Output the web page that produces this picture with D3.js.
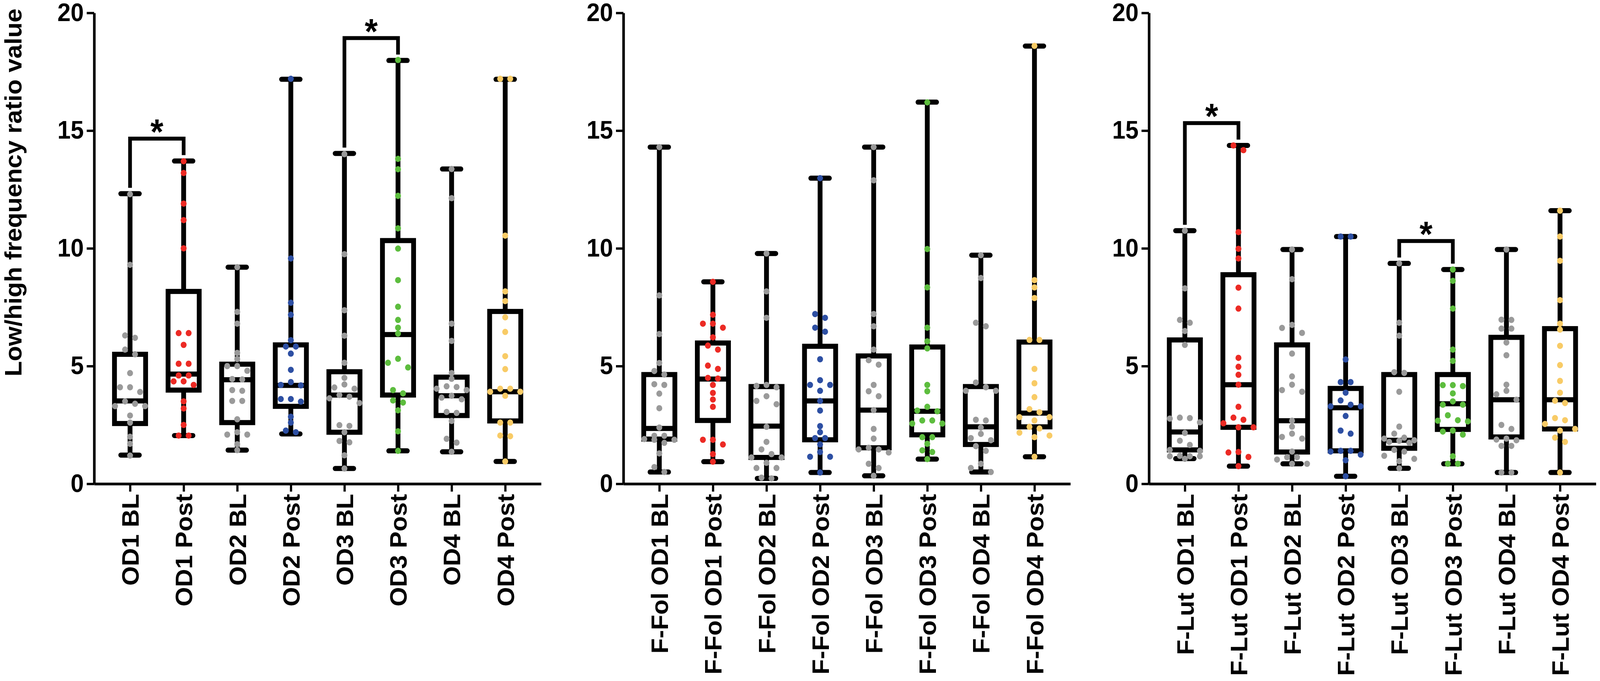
<!DOCTYPE html>
<html>
<head>
<meta charset="utf-8">
<script src="https://cdn.jsdelivr.net/npm/d3@7"></script>
<style>
  html, body { margin: 0; padding: 0; background: #fff; overflow: hidden; }
  #chart svg { display: block; width: 100vw; height: 100vh; }
  text { font-family: "Liberation Sans", Arial, sans-serif; font-weight: bold; }
</style>
</head>
<body>
<div id="chart"></div>
<script>
// ---- data ----
var labels1 = ["OD1 BL", "OD1 Post", "OD2 BL", "OD2 Post", "OD3 BL", "OD3 Post", "OD4 BL", "OD4 Post"];
var labels2 = ["F-Fol OD1 BL", "F-Fol OD1 Post", "F-Fol OD2 BL", "F-Fol OD2 Post", "F-Fol OD3 BL", "F-Fol OD3 Post", "F-Fol OD4 BL", "F-Fol OD4 Post"];
var labels3 = ["F-Lut OD1 BL", "F-Lut OD1 Post", "F-Lut OD2 BL", "F-Lut OD2 Post", "F-Lut OD3 BL", "F-Lut OD3 Post", "F-Lut OD4 BL", "F-Lut OD4 Post"];

var yTicks = [0, 5, 10, 15, 20];
var groupColors = ["#9a9a9a", "#ec2a24", "#9a9a9a", "#2d4fa3", "#9a9a9a", "#5dbd3e", "#9a9a9a", "#f8cb66"];

// box statistics (min, q1, median, q3, max)
var min1 = [1.22, 2.05, 1.43, 2.12, 0.65, 1.40, 1.36, 0.95];
var q1_1 = [2.56, 3.98, 2.60, 3.29, 2.19, 3.77, 2.90, 2.67];
var med1 = [3.52, 4.66, 4.42, 4.18, 3.77, 6.34, 3.74, 3.91];
var q3_1 = [5.50, 8.17, 5.08, 5.90, 4.76, 10.33, 4.53, 7.32];
var max1 = [12.32, 13.71, 9.20, 17.18, 14.03, 17.98, 13.37, 17.18];

var min2 = [0.50, 0.94, 0.23, 0.48, 0.34, 1.05, 0.50, 1.15];
var q1_2 = [1.90, 2.69, 1.12, 1.87, 1.53, 2.08, 1.67, 2.42];
var med2 = [2.35, 4.45, 2.45, 3.52, 3.13, 3.08, 2.42, 3.00];
var q3_2 = [4.64, 5.98, 4.13, 5.84, 5.43, 5.81, 4.13, 6.02];
var max2 = [14.30, 8.58, 9.78, 12.98, 14.30, 16.21, 9.71, 18.59];

var min3 = [1.07, 0.75, 0.85, 0.32, 0.66, 0.85, 0.48, 0.48];
var q1_3 = [1.44, 2.40, 1.35, 1.40, 1.51, 2.31, 1.99, 2.33];
var med3 = [2.20, 4.21, 2.68, 3.23, 1.85, 3.40, 3.57, 3.57];
var q3_3 = [6.11, 8.88, 5.90, 4.05, 4.64, 4.64, 6.22, 6.59];
var max3 = [10.75, 14.37, 9.95, 10.50, 9.36, 9.10, 9.95, 11.60];

// individual values
var points1 = [
  [12.3, 9.3, 6.3, 6.2, 5.7, 5.5, 4.7, 4.1, 4.1, 3.9, 3.5, 3.4, 3.3, 3.3, 2.9, 2.6, 2.0, 1.7, 1.2],
  [13.7, 13.2, 11.9, 11.2, 10.0, 6.4, 6.4, 5.9, 5.1, 5.1, 4.6, 4.6, 4.35, 4.35, 4.2, 3.5, 3.2, 2.5, 2.05, 2.05],
  [9.2, 7.3, 6.8, 5.56, 5.3, 5.0, 5.0, 4.8, 4.45, 4.43, 3.98, 3.95, 3.52, 3.52, 2.74, 2.19, 2.09, 2.09, 1.68, 1.43],
  [17.2, 9.57, 7.69, 7.18, 6.1, 5.83, 5.83, 5.53, 4.84, 4.32, 4.18, 4.2, 3.6, 3.6, 3.49, 2.85, 2.6, 2.26, 2.19],
  [14.0, 9.75, 7.37, 6.29, 5.14, 4.5, 4.22, 4.09, 4.04, 3.77, 3.7, 3.63, 3.43, 2.49, 2.46, 2.19, 1.82, 1.76, 1.21, 0.65],
  [18.0, 13.8, 13.36, 12.23, 10.85, 9.99, 8.65, 7.52, 6.96, 6.63, 6.38, 5.31, 5.14, 4.94, 3.98, 3.84, 3.54, 3.45, 3.12, 2.23, 1.4],
  [13.37, 12.13, 6.8, 6.07, 4.7, 4.46, 4.14, 4.11, 4.04, 3.98, 3.74, 3.66, 3.59, 3.01, 3.05, 2.67, 1.91, 1.75, 1.36],
  [17.2, 17.2, 10.54, 8.17, 7.76, 7.07, 6.45, 5.42, 4.87, 4.04, 4.04, 3.91, 3.91, 3.74, 2.6, 2.6, 2.05, 2.02, 0.95]
];
var points2 = [
  [14.3, 8.0, 6.36, 5.13, 4.79, 4.64, 4.23, 4.2, 3.83, 3.21, 2.39, 2.04, 2.04, 1.9, 1.87, 1.87, 1.74, 1.29, 0.71, 0.5],
  [8.58, 7.18, 6.8, 6.8, 6.63, 6.22, 5.87, 5.7, 5.02, 4.88, 4.47, 4.5, 4.2, 3.86, 3.58, 3.27, 1.87, 1.87, 1.67, 1.26, 0.94],
  [9.78, 8.17, 7.05, 4.16, 4.1, 4.2, 3.72, 3.52, 3.38, 2.42, 1.78, 1.46, 1.26, 1.12, 1.12, 0.89, 0.67, 0.67, 0.23, 0.26],
  [12.98, 7.21, 7.05, 6.63, 6.46, 5.29, 4.4, 4.2, 4.2, 3.95, 3.52, 3.11, 2.45, 2.19, 1.94, 1.94, 1.67, 1.35, 1.15, 1.15, 0.48],
  [14.3, 12.89, 7.21, 6.69, 5.7, 5.25, 5.06, 4.2, 3.93, 3.72, 3.13, 2.33, 1.92, 1.46, 1.46, 1.53, 1.33, 0.85, 0.67, 0.34],
  [16.2, 9.97, 8.34, 6.63, 6.05, 5.75, 4.2, 3.93, 3.27, 3.08, 3.11, 2.69, 2.56, 2.56, 2.69, 1.98, 1.98, 1.7, 1.42, 1.35, 1.05],
  [9.71, 8.74, 6.84, 6.69, 4.3, 4.1, 3.95, 3.95, 2.72, 2.69, 2.39, 2.12, 1.94, 1.85, 1.6, 1.4, 0.85, 0.67, 0.5],
  [18.6, 8.65, 8.34, 7.89, 6.11, 6.11, 4.88, 4.27, 3.68, 3.17, 3.04, 2.83, 2.83, 2.69, 2.42, 2.35, 2.17, 1.98, 2.05, 1.15]
];
var points3 = [
  [10.75, 8.3, 6.96, 6.84, 6.49, 5.9, 2.77, 2.79, 2.61, 2.81, 2.16, 1.83, 1.65, 1.44, 1.4, 1.19, 1.17, 1.17, 1.06, 1.17],
  [14.37, 14.17, 10.69, 9.98, 9.57, 8.33, 7.44, 5.35, 4.97, 4.63, 4.21, 3.27, 2.81, 2.72, 2.57, 2.4, 2.4, 1.35, 1.33, 1.14, 0.75],
  [9.95, 8.69, 6.75, 6.62, 6.41, 5.53, 4.56, 4.21, 3.98, 3.91, 2.68, 2.43, 1.99, 2.13, 1.92, 1.37, 1.13, 1.13, 1.03, 0.85, 0.85],
  [10.5, 10.5, 5.28, 4.32, 4.32, 3.87, 3.54, 3.36, 3.29, 3.29, 2.88, 2.26, 2.13, 1.4, 1.4, 1.37, 1.24, 1.0, 0.32],
  [9.36, 6.84, 6.29, 4.74, 4.71, 3.91, 2.43, 2.13, 1.96, 1.92, 1.85, 1.83, 1.78, 1.74, 1.44, 1.37, 1.19, 1.06, 0.96, 0.66],
  [9.1, 8.62, 7.44, 5.7, 5.22, 4.19, 4.19, 4.15, 3.84, 3.5, 3.36, 3.36, 2.91, 2.7, 2.65, 2.68, 2.26, 2.22, 2.09, 1.17, 0.85, 0.85],
  [9.95, 6.97, 6.96, 6.59, 6.59, 6.0, 5.46, 4.21, 3.95, 3.8, 3.57, 2.5, 2.33, 1.92, 1.88, 1.85, 1.61, 1.61, 0.48, 0.48],
  [11.6, 10.5, 9.47, 7.8, 6.8, 6.55, 5.86, 5.04, 4.37, 3.87, 3.53, 3.43, 2.79, 2.7, 2.54, 2.33, 2.26, 1.96, 1.78, 0.48]
];

// significant pairs (index of the two groups)
var sig1 = [[0, 1], [4, 5]];
var sig2 = [];
var sig3 = [[0, 1], [4, 5]];

// ---- layout ----
var width = 4317, height = 1744;
var plotTop = 33, plotBottom = 1239, plotWidth = 1206;
var panelLefts = [254, 1682, 3100];

var svg = d3.select("#chart").append("svg")
    .attr("viewBox", "0 0 " + width + " " + height)
    .attr("preserveAspectRatio", "none")
    .style("background", "#fff");

var y = d3.scaleLinear().domain([0, 20]).range([plotBottom, plotTop]);

// simple deterministic beeswarm: values that overlap vertically get spread sideways
function swarm(vals, step) {
  var pts = vals.map(function(v) { return {v: v, py: y(v)}; })
    .sort(function(a, b) { return a.py - b.py; });
  var groups = [], cur = [];
  pts.forEach(function(p) {
    if (cur.length && (p.py - cur[cur.length - 1].py >= 14 || cur.length >= 4)) {
      groups.push(cur); cur = [];
    }
    cur.push(p);
  });
  if (cur.length) groups.push(cur);
  groups.forEach(function(g) {
    var n = g.length;
    var offs = d3.range(n).map(function(i) { return (i - (n - 1) / 2) * step; });
    offs.sort(function(a, b) { return Math.abs(a) - Math.abs(b) || a - b; });
    g.forEach(function(p, i) { p.dx = offs[i]; });
  });
  return pts;
}

function drawPanel(left, labels, mins, q1s, meds, q3s, maxs, points, sigs, withTitle) {
  var g = svg.append("g").attr("transform", "translate(" + left + ",0)");

  var x = d3.scalePoint().domain(labels).range([0, plotWidth]).padding(0.67);

  // y axis
  var ya = g.append("g")
      .call(d3.axisLeft(y).tickValues(yTicks).tickSize(20).tickSizeOuter(0).tickPadding(8));
  ya.select(".domain").attr("stroke", "#000").attr("stroke-width", 7);
  ya.selectAll(".tick line").attr("stroke", "#000").attr("stroke-width", 6);
  ya.selectAll(".tick text")
      .attr("font-size", 64)
      .attr("font-family", "'Liberation Sans', Arial, sans-serif")
      .attr("font-weight", "bold")
      .attr("fill", "#000");

  // x axis
  var xa = g.append("g")
      .attr("transform", "translate(0," + plotBottom + ")")
      .call(d3.axisBottom(x).tickSize(20).tickSizeOuter(0));
  xa.select(".domain").attr("stroke", "#000").attr("stroke-width", 7);
  xa.selectAll(".tick line").attr("stroke", "#000").attr("stroke-width", 6);
  xa.selectAll(".tick text")
      .attr("font-size", 64)
      .attr("font-family", "'Liberation Sans', Arial, sans-serif")
      .attr("font-weight", "bold")
      .attr("fill", "#000")
      .attr("transform", "rotate(-90)")
      .attr("x", -26)
      .attr("y", 0)
      .attr("dy", "0.36em")
      .style("text-anchor", "end");

  var boxHalf = 42, capHalf = 25;
  labels.forEach(function(lab, i) {
    var cx = x(lab);
    var bg = g.append("g");
    // whiskers
    bg.append("line").attr("x1", cx).attr("x2", cx).attr("y1", y(maxs[i])).attr("y2", y(q3s[i]))
      .attr("stroke", "#000").attr("stroke-width", 13);
    bg.append("line").attr("x1", cx).attr("x2", cx).attr("y1", y(q1s[i])).attr("y2", y(mins[i]))
      .attr("stroke", "#000").attr("stroke-width", 13);
    // caps
    [mins[i], maxs[i]].forEach(function(v) {
      bg.append("line").attr("x1", cx - capHalf).attr("x2", cx + capHalf)
        .attr("y1", y(v)).attr("y2", y(v))
        .attr("stroke", "#000").attr("stroke-width", 13).attr("stroke-linecap", "round");
    });
    // box
    bg.append("rect")
      .attr("x", cx - boxHalf).attr("width", boxHalf * 2)
      .attr("y", y(q3s[i])).attr("height", y(q1s[i]) - y(q3s[i]))
      .attr("fill", "#fff").attr("stroke", "#000").attr("stroke-width", 13);
    bg.append("line").attr("x1", cx - boxHalf).attr("x2", cx + boxHalf)
      .attr("y1", y(meds[i])).attr("y2", y(meds[i]))
      .attr("stroke", "#000").attr("stroke-width", 13);
  });

  // dots on top
  labels.forEach(function(lab, i) {
    var cx = x(lab);
    g.append("g").selectAll("circle")
      .data(swarm(points[i], 27))
      .enter()
      .append("circle")
      .attr("cx", function(d) { return cx + d.dx; })
      .attr("cy", function(d) { return d.py; })
      .attr("r", 8)
      .attr("fill", groupColors[i]);
  });

  // significance brackets
  sigs.forEach(function(pair) {
    var a = pair[0], b = pair[1];
    var xa1 = x(labels[a]), xb1 = x(labels[b]);
    var top = y(Math.max(maxs[a], maxs[b]) + 0.95);
    g.append("path")
      .attr("d", "M" + xa1 + "," + y(maxs[a] + 0.25) + "V" + top + "H" + xb1 + "V" + y(maxs[b] + 0.25))
      .attr("fill", "none").attr("stroke", "#000").attr("stroke-width", 10);
    g.append("text")
      .attr("x", (xa1 + xb1) / 2)
      .attr("y", top - 38 + 0.58 * 90)
      .attr("text-anchor", "middle")
      .attr("font-size", 90)
      .text("*");
  });

  if (withTitle) {
    svg.append("text")
      .attr("transform", "translate(58," + 493 + ") rotate(-90)")
      .attr("text-anchor", "middle")
      .attr("font-size", 64)
      .text("Low/high frequency ratio value");
  }
}

drawPanel(panelLefts[0], labels1, min1, q1_1, med1, q3_1, max1, points1, sig1, true);
drawPanel(panelLefts[1], labels2, min2, q1_2, med2, q3_2, max2, points2, sig2, false);
drawPanel(panelLefts[2], labels3, min3, q1_3, med3, q3_3, max3, points3, sig3, false);
</script>
</body>
</html>
